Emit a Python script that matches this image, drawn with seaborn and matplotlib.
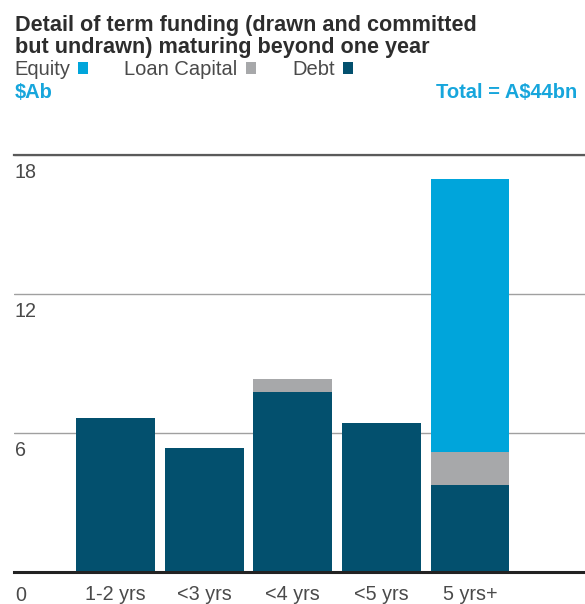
import numpy as np
import seaborn as sns
import matplotlib.pyplot as plt
from matplotlib.patches import Patch
from matplotlib import transforms

# values ($Ab)
categories = ["1-2 yrs", "<3 yrs", "<4 yrs", "<5 yrs", "5 yrs+"]
debt = [6.64, 5.38, 7.78, 6.43, 3.77]
loan_capital = [0.0, 0.0, 0.56, 0.0, 1.43]
equity = [0.0, 0.0, 0.0, 0.0, 11.75]
y_ticks = [0, 6, 12, 18]

title_lines = ["Detail of term funding (drawn and committed",
               "but undrawn) maturing beyond one year"]
series_names = ["Equity", "Loan Capital", "Debt"]
unit_label = "\\$Ab"
total_label = "Total = A\\$44bn"

c_equity = "#00a5db"
c_loan = "#a7a8aa"
c_debt = "#03506e"
c_text = "#4a4a4a"
c_blue_text = "#17a6dc"


def main():
    sns.set_theme(style="white")
    plt.rcParams["font.family"] = ["Liberation Sans", "DejaVu Sans"]

    W, H = 585, 604
    fig = plt.figure(figsize=(W / 100, H / 100), dpi=100)
    ax = fig.add_axes([14 / W, 1 - 572.3 / H, 1 - 14 / W, (572.3 - 155) / H])

    # stacked bars: draw cumulative totals from the top down
    debt_top = np.array(debt)
    loan_top = debt_top + np.array(loan_capital)
    equity_top = loan_top + np.array(equity)
    for vals, col in [(equity_top, c_equity), (loan_top, c_loan), (debt_top, c_debt)]:
        sns.barplot(x=categories, y=vals, order=categories, color=col,
                    saturation=1, width=0.89, linewidth=0, errorbar=None, ax=ax)

    ax.set_xlim(-1.15, 5.30)
    ax.set_ylim(0, 18)
    ax.set_yticks(y_ticks)
    ax.set_yticklabels([])
    ax.set_xlabel("")
    ax.set_ylabel("")
    ax.set_axisbelow(True)
    ax.grid(axis="y", color="#a0a0a0", linewidth=1.0)
    ax.grid(axis="x", visible=False)
    ax.tick_params(axis="y", length=0)
    ax.tick_params(axis="x", length=0, pad=9, labelsize=14.2, labelcolor=c_text)

    for side in ["left", "right"]:
        ax.spines[side].set_visible(False)
    ax.spines["top"].set_color("#5a5a5a")
    ax.spines["top"].set_linewidth(1.6)
    ax.spines["bottom"].set_color("#222222")
    ax.spines["bottom"].set_linewidth(2.2)

    for v in y_ticks:
        off = 14 if v == 0 else 8
        tr = transforms.offset_copy(ax.get_yaxis_transform(), fig=fig,
                                    x=1, y=-off, units="dots")
        ax.text(0, v, str(v), transform=tr, ha="left", va="top",
                fontsize=14.2, color=c_text)

    # header text
    fig.text(15 / W, 1 - 31 / H, title_lines[0], fontsize=15.6,
             fontweight="bold", color="#2d2d2d", va="baseline")
    fig.text(15 / W, 1 - 53 / H, title_lines[1], fontsize=15.6,
             fontweight="bold", color="#2d2d2d", va="baseline")

    handles = [Patch(facecolor=c, edgecolor="none") for c in [c_equity, c_loan, c_debt]]
    fig.legend(handles, series_names, ncol=3, markerfirst=False, frameon=False,
               loc="lower left", bbox_to_anchor=(14 / W, 1 - 79 / H),
               fontsize=14.5, labelcolor=c_text, handlelength=0.5, handleheight=0.5,
               handletextpad=0.4, columnspacing=1.8, borderpad=0, borderaxespad=0)

    fig.text(15 / W, 1 - 97.8 / H, unit_label, fontsize=14.5, fontweight="bold",
             color=c_blue_text, va="baseline")
    fig.text(577 / W, 1 - 97.8 / H, total_label, fontsize=14.5, fontweight="bold",
             color=c_blue_text, va="baseline", ha="right")

    fig.savefig("out.png", dpi=100)


if __name__ == "__main__":
    main()
